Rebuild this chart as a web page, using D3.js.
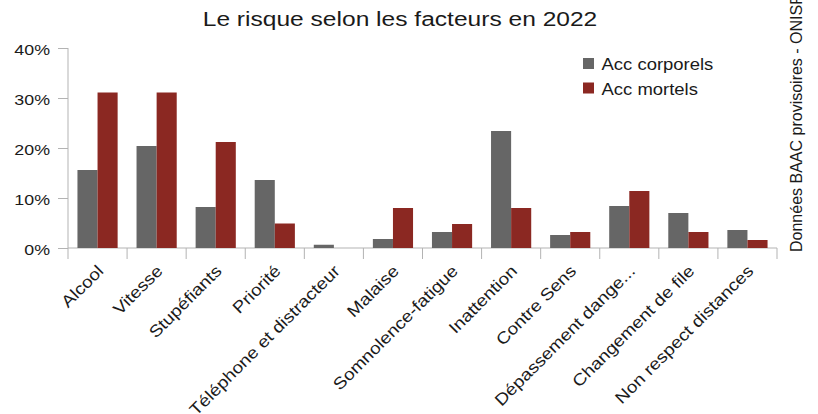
<!DOCTYPE html>
<html>
<head>
<meta charset="utf-8">
<script src="https://cdn.jsdelivr.net/npm/d3@7"></script>
<style>
  body { margin: 0; background: #fff; }
  text { font-family: "Liberation Sans", Arial, sans-serif; fill: #1a1a1a; }
</style>
</head>
<body>
<div id="chart"></div>
<script>
var categories = ["Alcool", "Vitesse", "Stupéfiants", "Priorité", "Téléphone et distracteur",
  "Malaise", "Somnolence-fatigue", "Inattention", "Contre Sens", "Dépassement dange...",
  "Changement de file", "Non respect distances"];
var corporels = [15.6, 20.4, 8.2, 13.6, 0.65, 1.8, 3.2, 23.4, 2.6, 8.4, 7.0, 3.6];
var mortels = [31.1, 31.1, 21.2, 4.9, 0, 8.0, 4.8, 8.0, 3.2, 11.4, 3.2, 1.6];
var series = ["Acc corporels", "Acc mortels"];
var yTicks = [0, 10, 20, 30, 40];

const W = 818, H = 414;
const margin = {top: 48, right: 41, bottom: 166, left: 68};
const width = W - margin.left - margin.right;
const height = H - margin.top - margin.bottom;
const colors = ["#666666", "#8b2822"];
const axisColor = "#b3b3b3";
const stretch = 1.15; // the source rendering draws its text a bit wide

var svg = d3.select("#chart").append("svg")
  .attr("width", W)
  .attr("height", H);

svg.append("text")
  .attr("text-anchor", "middle")
  .attr("transform", "translate(400,26) scale(1.17,1)")
  .style("font-size", "21px")
  .text("Le risque selon les facteurs en 2022");

var g = svg.append("g")
  .attr("transform", "translate(" + margin.left + "," + margin.top + ")");

var x = d3.scaleBand().domain(categories).range([0, width]).paddingInner(0.32).paddingOuter(0.16);
var xs = d3.scaleBand().domain(series).range([0, x.bandwidth()]);
var y = d3.scaleLinear().domain([0, 40]).range([height, 0]);
var step = width / categories.length;

// y axis
var yAxis = g.append("g")
  .call(d3.axisLeft(y).tickValues(yTicks).tickSize(10).tickPadding(8)
    .tickFormat(function(d) { return d + "%"; }));
yAxis.select(".domain").remove();
yAxis.selectAll("line").attr("stroke", axisColor);
yAxis.selectAll("text")
  .attr("x", 0)
  .attr("dy", "0.42em")
  .attr("transform", "translate(-18,0) scale(" + stretch + ",1)")
  .style("font-size", "15.5px")
  .attr("fill", "#1a1a1a");
g.append("line")
  .attr("x1", 0).attr("x2", 0).attr("y1", 0).attr("y2", height + 11)
  .attr("stroke", axisColor);

// x axis baseline + boundary ticks
g.append("line")
  .attr("x1", 0).attr("x2", width).attr("y1", height).attr("y2", height)
  .attr("stroke", axisColor);
g.selectAll("line.xtick")
  .data(d3.range(1, categories.length + 1))
  .enter().append("line")
  .attr("class", "xtick")
  .attr("x1", function(d) { return d * step; })
  .attr("x2", function(d) { return d * step; })
  .attr("y1", height).attr("y2", height + 11)
  .attr("stroke", axisColor);

// bars
var groups = g.selectAll("g.cat")
  .data(categories.map(function(c, i) { return {cat: c, vals: [corporels[i], mortels[i]]}; }))
  .enter().append("g")
  .attr("class", "cat")
  .attr("transform", function(d) { return "translate(" + x(d.cat) + ",0)"; });

groups.selectAll("rect")
  .data(function(d) { return d.vals.map(function(v, k) { return {s: series[k], v: v, k: k}; }); })
  .enter().append("rect")
  .attr("x", function(d) { return xs(d.s); })
  .attr("width", xs.bandwidth())
  .attr("y", function(d) { return y(d.v); })
  .attr("height", function(d) { return height - y(d.v); })
  .attr("fill", function(d) { return colors[d.k]; });

// category labels
g.selectAll("text.xlabel")
  .data(categories)
  .enter().append("text")
  .attr("class", "xlabel")
  .attr("text-anchor", "end")
  .style("font-size", "16.5px")
  .attr("transform", function(d) {
    var cx = x(d) + x.bandwidth() / 2 + 7;
    return "translate(" + cx + "," + (height + 24) + ") rotate(-45) scale(" + stretch + ",1)";
  })
  .text(function(d) { return d; });

// legend
var legend = svg.append("g").attr("transform", "translate(583,58)");
series.forEach(function(s, k) {
  legend.append("rect")
    .attr("x", 0).attr("y", k * 24.5)
    .attr("width", 11).attr("height", 11)
    .attr("fill", colors[k]);
  legend.append("text")
    .attr("transform", "translate(18.5," + (k * 24.5 + 12) + ") scale(1.12,1)")
    .style("font-size", "16.5px")
    .text(s);
});

// source note
svg.append("text")
  .attr("transform", "translate(802,252) rotate(-90)")
  .style("font-size", "16px")
  .text("Données BAAC provisoires - ONISR");
</script>
</body>
</html>
